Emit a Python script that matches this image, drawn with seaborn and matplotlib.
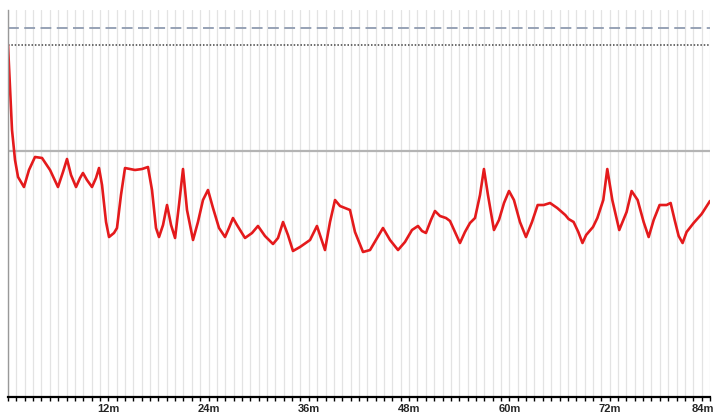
import numpy as np
import pandas as pd
import matplotlib
matplotlib.use("Agg")
import matplotlib.pyplot as plt
import matplotlib.transforms as mtransforms
from matplotlib.ticker import MultipleLocator
import seaborn as sns

# Series: time in minutes, value on a 0-100 scale
minutes = [0.00, 0.48, 0.84, 1.20, 1.91, 2.51, 3.23, 4.07, 5.03, 5.98, 6.58, 7.06, 7.54, 8.14,
           8.62, 8.97, 9.45, 10.05, 10.53, 10.89, 11.25, 11.73, 12.09, 12.68, 13.04, 13.52,
           14.00, 15.20, 16.03, 16.75, 17.23, 17.71, 18.07, 18.55, 19.03, 19.51, 19.99,
           20.46, 20.94, 21.42, 22.14, 22.73, 23.33, 23.93, 24.53, 25.25, 25.97, 26.44, 26.92,
           27.40, 28.36, 29.20, 29.91, 30.75, 31.71, 32.31, 32.91, 33.50, 34.10, 34.94, 36.14,
           36.97, 37.45, 37.93, 38.53, 39.13, 39.73, 40.32, 40.92, 41.52, 42.48, 43.32, 44.16,
           44.87, 45.71, 46.67, 47.50, 48.34, 49.06, 49.54, 50.01, 50.61, 51.09, 51.69, 52.41,
           52.89, 53.48, 54.08, 54.68, 55.28, 55.88, 56.48, 56.95, 57.43, 58.15, 58.75, 59.35,
           59.95, 60.54, 61.26, 61.98, 62.70, 63.38, 64.10, 64.86, 65.72, 66.68, 67.08, 67.68,
           68.24, 68.74, 69.18, 70.00, 70.52, 71.23, 71.71, 72.31, 73.14, 74.02, 74.62, 75.34,
           76.06, 76.66, 77.26, 77.97, 78.81, 79.29, 79.77, 80.25, 80.72, 81.20, 82.04, 83.00,
           84.00]
values = [90.96, 68.99, 61.24, 56.85, 54.26, 58.66, 62.02, 61.76, 58.66, 54.26, 58.14, 61.50,
          57.36, 54.26, 56.59, 57.88, 56.07, 54.26, 56.59, 59.17, 54.78, 45.22, 41.34, 42.38,
          43.67, 52.20, 59.17, 58.66, 58.91, 59.43, 53.49, 43.67, 41.34, 44.44, 49.61, 44.44,
          41.09, 49.61, 58.91, 48.32, 40.57, 45.22, 50.90, 53.49, 48.84, 43.67, 41.34, 43.67,
          46.25, 44.44, 41.09, 42.38, 44.19, 41.60, 39.53, 41.09, 45.22, 41.86, 37.73, 38.76,
          40.57, 44.19, 41.09, 37.98, 45.22, 50.90, 49.35, 48.84, 48.32, 42.64, 37.47, 37.98,
          41.09, 43.67, 40.57, 37.98, 40.05, 43.15, 44.19, 42.89, 42.38, 45.74, 48.06, 46.77,
          46.25, 45.48, 42.64, 39.79, 42.64, 44.96, 46.25, 52.20, 58.91, 52.20, 43.15, 45.74,
          50.13, 53.23, 50.90, 45.22, 41.34, 45.22, 49.61, 49.61, 50.13, 48.84, 47.03, 45.99,
          45.22, 42.64, 39.79, 41.86, 43.93, 46.25, 50.90, 58.91, 50.90, 43.15, 47.80, 53.23,
          50.90, 45.22, 41.34, 45.74, 49.61, 49.61, 50.13, 45.74, 41.60, 39.79, 42.64, 44.96,
          47.29, 50.65]

gray_level = 63.6      # solid gray reference line
dashed_level = 95.3    # dashed blue-gray reference line
dotted_level = 91.0    # dotted dark reference line

tick_minutes = [12, 24, 36, 48, 60, 72, 84]
tick_labels = ["12m", "24m", "36m", "48m", "60m", "72m", "84m"]

df = pd.DataFrame({"minute": minutes, "value": values})

sns.set_style("white")
plt.rcParams["font.family"] = ["Liberation Sans", "DejaVu Sans"]

fig = plt.figure(figsize=(7.21, 4.17), dpi=100)
ax = fig.add_axes([8 / 721, 20 / 417, 702 / 721, 387 / 417])

ax.set_xlim(0, 84)
ax.set_ylim(0, 100)

# vertical minute grid
ax.xaxis.set_minor_locator(MultipleLocator(1))
ax.grid(axis="x", which="both", color="#e3e3e3", linewidth=0.9)
ax.grid(axis="y", visible=False)
ax.set_axisbelow(True)

ax.axhline(dashed_level, color="#8f9bb0", linewidth=1.3, linestyle=(0, (6, 3)))
ax.axhline(dotted_level, color="#444444", linewidth=1.1, linestyle=(0, (1, 1.2)))
ax.axhline(gray_level, color="#b4b4b4", linewidth=1.6)

sns.lineplot(data=df, x="minute", y="value", sort=False, estimator=None,
             color="#e41a1c", linewidth=1.9, ax=ax,
             solid_joinstyle="round", solid_capstyle="round")

ax.set_xticks(tick_minutes)
ax.set_xticklabels(tick_labels, fontsize=8, fontweight="bold")
ax.tick_params(axis="x", which="both", direction="out", bottom=True, length=3,
               width=1, color="black", pad=2)
ax.set_yticks([])
ax.set_xlabel("")
ax.set_ylabel("")

# nudge the last label left so it stays inside the canvas
last = ax.get_xticklabels()[-1]
last.set_transform(last.get_transform() +
                   mtransforms.ScaledTranslation(-7 / 100, 0, fig.dpi_scale_trans))

for s in ["top", "right"]:
    ax.spines[s].set_visible(False)
ax.spines["bottom"].set_color("black")
ax.spines["bottom"].set_linewidth(1.6)
ax.spines["left"].set_color("#999999")
ax.spines["left"].set_linewidth(1.0)

fig.savefig("out.png", dpi=100, facecolor="white")
